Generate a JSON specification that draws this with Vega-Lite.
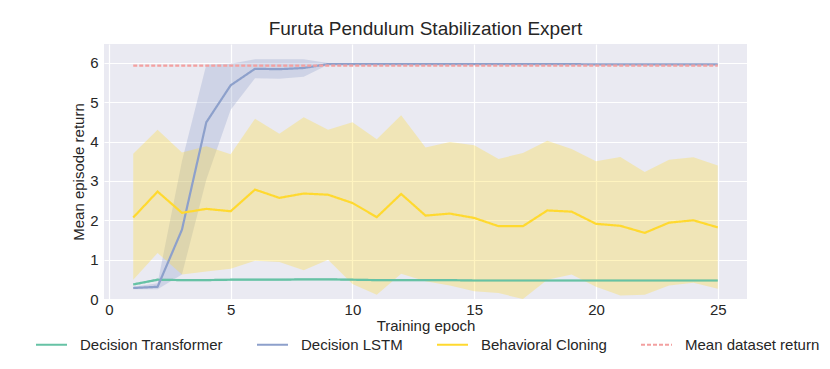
{
  "$schema": "https://vega.github.io/schema/vega-lite/v6.json",
  "autosize": {"type": "none"},
  "padding": {"left": 104, "top": 44, "right": 83, "bottom": 70},
  "width": 643,
  "height": 255,
  "background": "white",
  "config": {
    "font": "Liberation Sans",
    "view": {"fill": "#EAEAF2", "stroke": null},
    "axis": {"grid": true, "gridColor": "white", "gridWidth": 1.2, "domain": false, "ticks": false, "labelFontSize": 15, "labelColor": "#262626", "titleFontSize": 15, "titleFontWeight": "normal", "titleColor": "#262626"}
  },
  "title": {"text": "Furuta Pendulum Stabilization Expert", "fontSize": 19, "fontWeight": "normal", "color": "#262626", "offset": 5},
  "data": {"values": [
    {"epoch": 1, "series": "Decision Transformer", "mean": 0.37, "lo": 0.34, "hi": 0.40},
    {"epoch": 2, "series": "Decision Transformer", "mean": 0.49, "lo": 0.46, "hi": 0.52},
    {"epoch": 3, "series": "Decision Transformer", "mean": 0.48, "lo": 0.45, "hi": 0.51},
    {"epoch": 4, "series": "Decision Transformer", "mean": 0.48, "lo": 0.45, "hi": 0.51},
    {"epoch": 5, "series": "Decision Transformer", "mean": 0.49, "lo": 0.46, "hi": 0.52},
    {"epoch": 6, "series": "Decision Transformer", "mean": 0.49, "lo": 0.46, "hi": 0.52},
    {"epoch": 7, "series": "Decision Transformer", "mean": 0.49, "lo": 0.46, "hi": 0.52},
    {"epoch": 8, "series": "Decision Transformer", "mean": 0.50, "lo": 0.47, "hi": 0.53},
    {"epoch": 9, "series": "Decision Transformer", "mean": 0.50, "lo": 0.47, "hi": 0.53},
    {"epoch": 10, "series": "Decision Transformer", "mean": 0.49, "lo": 0.46, "hi": 0.52},
    {"epoch": 11, "series": "Decision Transformer", "mean": 0.48, "lo": 0.45, "hi": 0.51},
    {"epoch": 12, "series": "Decision Transformer", "mean": 0.48, "lo": 0.45, "hi": 0.51},
    {"epoch": 13, "series": "Decision Transformer", "mean": 0.48, "lo": 0.45, "hi": 0.51},
    {"epoch": 14, "series": "Decision Transformer", "mean": 0.48, "lo": 0.45, "hi": 0.51},
    {"epoch": 15, "series": "Decision Transformer", "mean": 0.47, "lo": 0.44, "hi": 0.50},
    {"epoch": 16, "series": "Decision Transformer", "mean": 0.47, "lo": 0.44, "hi": 0.50},
    {"epoch": 17, "series": "Decision Transformer", "mean": 0.47, "lo": 0.44, "hi": 0.50},
    {"epoch": 18, "series": "Decision Transformer", "mean": 0.47, "lo": 0.44, "hi": 0.50},
    {"epoch": 19, "series": "Decision Transformer", "mean": 0.47, "lo": 0.44, "hi": 0.50},
    {"epoch": 20, "series": "Decision Transformer", "mean": 0.47, "lo": 0.44, "hi": 0.50},
    {"epoch": 21, "series": "Decision Transformer", "mean": 0.47, "lo": 0.44, "hi": 0.50},
    {"epoch": 22, "series": "Decision Transformer", "mean": 0.47, "lo": 0.44, "hi": 0.50},
    {"epoch": 23, "series": "Decision Transformer", "mean": 0.47, "lo": 0.44, "hi": 0.50},
    {"epoch": 24, "series": "Decision Transformer", "mean": 0.47, "lo": 0.44, "hi": 0.50},
    {"epoch": 25, "series": "Decision Transformer", "mean": 0.47, "lo": 0.44, "hi": 0.50},
    {"epoch": 1, "series": "Decision LSTM", "mean": 0.28, "lo": 0.25, "hi": 0.31},
    {"epoch": 2, "series": "Decision LSTM", "mean": 0.31, "lo": 0.25, "hi": 0.40},
    {"epoch": 3, "series": "Decision LSTM", "mean": 1.76, "lo": 0.62, "hi": 3.5},
    {"epoch": 4, "series": "Decision LSTM", "mean": 4.49, "lo": 3.03, "hi": 5.95},
    {"epoch": 5, "series": "Decision LSTM", "mean": 5.43, "lo": 4.81, "hi": 5.98},
    {"epoch": 6, "series": "Decision LSTM", "mean": 5.85, "lo": 5.61, "hi": 6.09},
    {"epoch": 7, "series": "Decision LSTM", "mean": 5.84, "lo": 5.60, "hi": 6.09},
    {"epoch": 8, "series": "Decision LSTM", "mean": 5.87, "lo": 5.65, "hi": 6.09},
    {"epoch": 9, "series": "Decision LSTM", "mean": 5.97, "lo": 5.95, "hi": 6.00},
    {"epoch": 10, "series": "Decision LSTM", "mean": 5.97, "lo": 5.95, "hi": 5.99},
    {"epoch": 11, "series": "Decision LSTM", "mean": 5.97, "lo": 5.95, "hi": 5.99},
    {"epoch": 12, "series": "Decision LSTM", "mean": 5.97, "lo": 5.95, "hi": 5.99},
    {"epoch": 13, "series": "Decision LSTM", "mean": 5.97, "lo": 5.95, "hi": 5.99},
    {"epoch": 14, "series": "Decision LSTM", "mean": 5.97, "lo": 5.95, "hi": 5.99},
    {"epoch": 15, "series": "Decision LSTM", "mean": 5.97, "lo": 5.95, "hi": 5.99},
    {"epoch": 16, "series": "Decision LSTM", "mean": 5.97, "lo": 5.95, "hi": 5.99},
    {"epoch": 17, "series": "Decision LSTM", "mean": 5.97, "lo": 5.95, "hi": 5.99},
    {"epoch": 18, "series": "Decision LSTM", "mean": 5.97, "lo": 5.95, "hi": 5.99},
    {"epoch": 19, "series": "Decision LSTM", "mean": 5.97, "lo": 5.95, "hi": 5.99},
    {"epoch": 20, "series": "Decision LSTM", "mean": 5.96, "lo": 5.94, "hi": 5.98},
    {"epoch": 21, "series": "Decision LSTM", "mean": 5.96, "lo": 5.94, "hi": 5.98},
    {"epoch": 22, "series": "Decision LSTM", "mean": 5.96, "lo": 5.94, "hi": 5.98},
    {"epoch": 23, "series": "Decision LSTM", "mean": 5.96, "lo": 5.94, "hi": 5.98},
    {"epoch": 24, "series": "Decision LSTM", "mean": 5.96, "lo": 5.94, "hi": 5.98},
    {"epoch": 25, "series": "Decision LSTM", "mean": 5.96, "lo": 5.94, "hi": 5.98},
    {"epoch": 1, "series": "Behavioral Cloning", "mean": 2.07, "lo": 0.49, "hi": 3.69},
    {"epoch": 2, "series": "Behavioral Cloning", "mean": 2.73, "lo": 1.17, "hi": 4.30},
    {"epoch": 3, "series": "Behavioral Cloning", "mean": 2.19, "lo": 0.62, "hi": 3.72},
    {"epoch": 4, "series": "Behavioral Cloning", "mean": 2.29, "lo": 0.70, "hi": 3.88},
    {"epoch": 5, "series": "Behavioral Cloning", "mean": 2.23, "lo": 0.77, "hi": 3.68},
    {"epoch": 6, "series": "Behavioral Cloning", "mean": 2.78, "lo": 0.97, "hi": 4.58},
    {"epoch": 7, "series": "Behavioral Cloning", "mean": 2.57, "lo": 0.94, "hi": 4.20},
    {"epoch": 8, "series": "Behavioral Cloning", "mean": 2.68, "lo": 0.73, "hi": 4.62},
    {"epoch": 9, "series": "Behavioral Cloning", "mean": 2.65, "lo": 1.00, "hi": 4.30},
    {"epoch": 10, "series": "Behavioral Cloning", "mean": 2.44, "lo": 0.38, "hi": 4.49},
    {"epoch": 11, "series": "Behavioral Cloning", "mean": 2.08, "lo": 0.11, "hi": 4.06},
    {"epoch": 12, "series": "Behavioral Cloning", "mean": 2.67, "lo": 0.64, "hi": 4.67},
    {"epoch": 13, "series": "Behavioral Cloning", "mean": 2.12, "lo": 0.45, "hi": 3.85},
    {"epoch": 14, "series": "Behavioral Cloning", "mean": 2.17, "lo": 0.34, "hi": 3.99},
    {"epoch": 15, "series": "Behavioral Cloning", "mean": 2.06, "lo": 0.20, "hi": 3.91},
    {"epoch": 16, "series": "Behavioral Cloning", "mean": 1.85, "lo": 0.15, "hi": 3.56},
    {"epoch": 17, "series": "Behavioral Cloning", "mean": 1.85, "lo": 0.00, "hi": 3.71},
    {"epoch": 18, "series": "Behavioral Cloning", "mean": 2.25, "lo": 0.49, "hi": 4.02},
    {"epoch": 19, "series": "Behavioral Cloning", "mean": 2.22, "lo": 0.62, "hi": 3.81},
    {"epoch": 20, "series": "Behavioral Cloning", "mean": 1.91, "lo": 0.31, "hi": 3.50},
    {"epoch": 21, "series": "Behavioral Cloning", "mean": 1.86, "lo": 0.09, "hi": 3.61},
    {"epoch": 22, "series": "Behavioral Cloning", "mean": 1.68, "lo": 0.11, "hi": 3.23},
    {"epoch": 23, "series": "Behavioral Cloning", "mean": 1.94, "lo": 0.34, "hi": 3.54},
    {"epoch": 24, "series": "Behavioral Cloning", "mean": 2.00, "lo": 0.41, "hi": 3.60},
    {"epoch": 25, "series": "Behavioral Cloning", "mean": 1.82, "lo": 0.26, "hi": 3.39},
    {"epoch": 1, "series": "Mean dataset return", "mean": 5.93},
    {"epoch": 25, "series": "Mean dataset return", "mean": 5.93}
  ]},
  "encoding": {
    "x": {"field": "epoch", "type": "quantitative", "title": "Training epoch",
      "scale": {"domain": [-0.2, 26.2], "nice": false, "zero": false},
      "axis": {"values": [0, 5, 10, 15, 20, 25], "labelPadding": 3, "titlePadding": 1}}
  },
  "layer": [
    {
      "transform": [{"filter": "isValid(datum.lo)"}],
      "mark": {"type": "area", "opacity": 0.3, "interpolate": "linear"},
      "encoding": {
        "y": {"field": "lo", "type": "quantitative", "title": "Mean episode return",
          "scale": {"domain": [0, 6.48], "nice": false},
          "axis": {"values": [0, 1, 2, 3, 4, 5, 6], "labelPadding": 6, "titlePadding": 3}},
        "y2": {"field": "hi"},
        "fill": {"field": "series", "type": "nominal", "legend": null,
          "scale": {"domain": ["Decision Transformer", "Decision LSTM", "Behavioral Cloning"], "range": ["#66C2A5", "#8DA0CB", "#FFD92F"]}}
      }
    },
    {
      "mark": {"type": "line", "strokeWidth": 2.2},
      "encoding": {
        "y": {"field": "mean", "type": "quantitative"},
        "color": {"field": "series", "type": "nominal",
          "scale": {"domain": ["Decision Transformer", "Decision LSTM", "Behavioral Cloning", "Mean dataset return"], "range": ["#66C2A5", "#8DA0CB", "#FFD92F", "#F3A0A0"]},
          "legend": {"title": null, "orient": "none", "legendX": -69, "legendY": 284, "direction": "horizontal",
            "symbolType": "stroke", "symbolSize": 961, "symbolStrokeWidth": 2, "labelFontSize": 15, "labelColor": "#262626",
            "labelOffset": 12, "columnPadding": 30, "labelLimit": 300}},
        "strokeDash": {"field": "series", "type": "nominal",
          "scale": {"domain": ["Decision Transformer", "Decision LSTM", "Behavioral Cloning", "Mean dataset return"], "range": [[1, 0], [1, 0], [1, 0], [4, 2]]},
          "legend": {"title": null, "orient": "none", "legendX": -69, "legendY": 284, "direction": "horizontal",
            "symbolType": "stroke", "symbolSize": 961, "symbolStrokeWidth": 2, "labelFontSize": 15, "labelColor": "#262626",
            "labelOffset": 12, "columnPadding": 30, "labelLimit": 300}},
        "strokeWidth": {"condition": {"test": "datum.series == 'Mean dataset return'", "value": 1.5}, "value": 2.2}
      }
    }
  ]
}
